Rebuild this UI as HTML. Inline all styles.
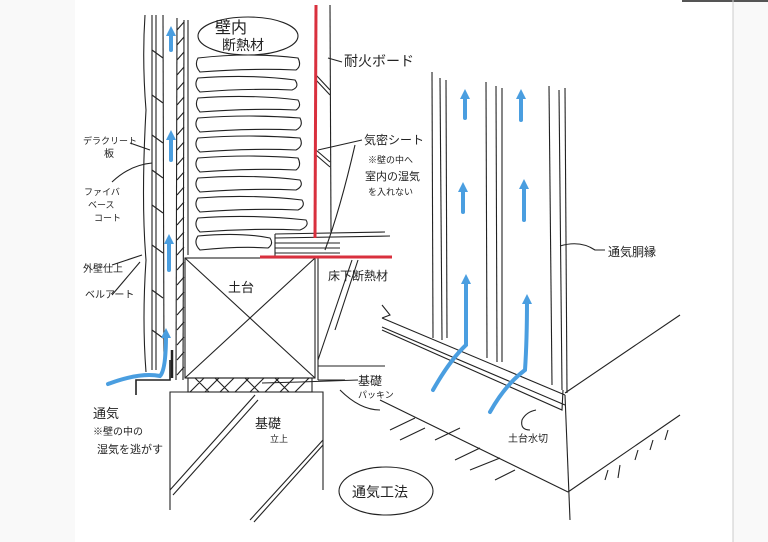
<!DOCTYPE html>
<html><head><meta charset="utf-8"><style>
body{margin:0;background:#fff;}
svg{display:block}
text{font-family:"Liberation Sans","Noto Sans CJK JP",sans-serif;fill:#222;}
</style></head><body>
<svg width="768" height="542" viewBox="0 0 768 542" xmlns="http://www.w3.org/2000/svg">
<rect width="768" height="542" fill="#fff"/>
<rect x="0" y="0" width="75" height="542" fill="#f9f9f9"/>
<rect x="733" y="0" width="35" height="542" fill="#f9f9f9"/>
<line x1="682" y1="1" x2="768" y2="1" stroke="#555" stroke-width="2"/>
<line x1="733" y1="0" x2="733" y2="542" stroke="#ccc"/>
<g stroke="#222" stroke-width="1.1" fill="none">
<!-- left wall layers -->
<path d="M145 15 Q142 60 146 110 Q141 200 146 260 Q142 320 146 372"/>
<line x1="152" y1="15" x2="152" y2="370"/>
<line x1="156" y1="15" x2="156" y2="370"/>
<line x1="163" y1="15" x2="164" y2="370"/>
<line x1="177" y1="18" x2="176" y2="380"/>
<line x1="184" y1="20" x2="183" y2="380"/>
<path d="M177 30 L184 22 M177 45 L184 37 M177 60 L184 52 M177 75 L184 67 M177 90 L184 82 M177 105 L184 97 M177 120 L184 112 M177 135 L184 127 M177 150 L184 142 M177 165 L184 157 M177 180 L184 172 M177 195 L184 187 M177 210 L184 202 M177 225 L184 217 M177 240 L184 232 M177 255 L184 247 M177 270 L184 262 M177 285 L184 277 M177 300 L184 292 M177 315 L184 307 M177 330 L184 322 M177 345 L184 337 M177 360 L184 352 M177 375 L184 367"/>
<path d="M152 50 L163 58 M152 95 L163 103 M152 135 L163 143 M152 170 L163 178 M152 205 L163 213 M152 245 L163 253 M152 290 L163 298 M152 330 L163 338"/>
<line x1="188" y1="20" x2="188" y2="255"/>
<!-- flashing -->
<path d="M136 395 L136 380 L170 380 L170 360" stroke-width="1.6"/>
<path d="M172 350 L172 378" stroke-width="2.5"/>
<!-- insulation oval -->
<ellipse cx="248" cy="36" rx="50" ry="19"/>
<!-- insulation blobs -->
<path d="M198 58 Q250 52 298 58 Q302 66 296 70 Q250 68 200 72 Q194 65 198 58Z"/>
<path d="M198 78 Q250 74 295 80 Q300 87 292 90 Q250 88 200 92 Q193 85 198 78Z"/>
<path d="M198 98 Q250 94 298 100 Q302 106 296 110 Q250 108 200 112 Q194 105 198 98Z"/>
<path d="M198 118 Q250 114 300 118 Q304 126 296 130 Q250 128 200 132 Q193 125 198 118Z"/>
<path d="M198 138 Q250 134 300 138 Q304 146 296 150 Q250 148 200 152 Q193 145 198 138Z"/>
<path d="M198 158 Q250 154 298 158 Q302 166 296 170 Q250 168 200 172 Q193 165 198 158Z"/>
<path d="M198 178 Q250 174 300 180 Q304 186 296 190 Q250 188 200 192 Q193 185 198 178Z"/>
<path d="M198 198 Q250 194 302 200 Q306 206 298 210 Q250 208 200 212 Q193 205 198 198Z"/>
<path d="M198 218 Q250 214 306 220 Q310 226 300 230 Q250 228 200 232 Q193 225 198 218Z"/>
<path d="M198 236 Q240 232 270 238 Q274 244 268 248 Q240 246 200 250 Q193 243 198 236Z"/>
<!-- interior wall -->
<line x1="330" y1="5" x2="331" y2="232"/>
<path d="M316 75 L330 90 M316 80 L330 95 M316 150 L330 162 M316 155 L330 167"/>
<!-- floor -->
<line x1="275" y1="234" x2="385" y2="232"/>
<line x1="275" y1="238" x2="390" y2="236"/>
<line x1="275" y1="243" x2="340" y2="243"/>
<line x1="275" y1="248" x2="340" y2="248"/>
<line x1="275" y1="253" x2="340" y2="253"/>
<line x1="275" y1="234" x2="275" y2="256"/>
<!-- sill -->
<rect x="185" y="258" width="130" height="120"/>
<line x1="185" y1="258" x2="315" y2="378"/>
<line x1="315" y1="258" x2="185" y2="378"/>
<rect x="188" y="378" width="124" height="14"/>
<path d="M190 392 L204 378 M205 392 L219 378 M220 392 L234 378 M235 392 L249 378 M250 392 L264 378 M265 392 L279 378 M280 392 L294 378 M295 392 L309 378 M195 378 L209 392 M215 378 L229 392 M245 378 L259 392 M275 378 L289 392"/>
<!-- foundation -->
<polyline points="170,510 170,392 323,392 323,490"/>
<line x1="170" y1="490" x2="255" y2="395"/>
<line x1="173" y1="495" x2="258" y2="400"/>
<line x1="250" y1="520" x2="323" y2="440"/>
<line x1="254" y1="522" x2="323" y2="445"/>
<line x1="318" y1="258" x2="318" y2="380"/>
<line x1="318" y1="380" x2="345" y2="380"/>
<line x1="318" y1="366" x2="385" y2="366"/>
<line x1="335" y1="330" x2="358" y2="260"/>
<line x1="318" y1="360" x2="352" y2="260"/>
<!-- leaders -->
<path d="M328 58 L342 62"/>
<path d="M318 150 L362 140"/>
<path d="M325 250 Q340 210 355 145"/>
<path d="M340 390 Q360 410 380 410"/>
<path d="M262 383 L300 382 L358 380"/>
<path d="M130 143 L150 150"/>
<path d="M112 182 Q130 165 152 163"/>
<path d="M112 265 L142 255"/>
<path d="M112 295 L140 262"/>
<path d="M560 246 Q580 240 595 250 L605 250"/>
<!-- right perspective studs -->
<line x1="432" y1="72" x2="433" y2="338"/>
<line x1="440" y1="78" x2="442" y2="340"/>
<line x1="446" y1="80" x2="447" y2="338"/>
<line x1="486" y1="82" x2="487" y2="358"/>
<line x1="496" y1="86" x2="497" y2="362"/>
<line x1="502" y1="88" x2="502" y2="362"/>
<line x1="549" y1="86" x2="552" y2="385"/>
<line x1="559" y1="90" x2="562" y2="390"/>
<line x1="565" y1="88" x2="567" y2="393"/>
<!-- sill plate -->
<path d="M382 318 L565 395 M382 327 L565 405 M382 330 L562 410 L563 390"/>
<path d="M382 305 L390 315 L382 318"/>
<line x1="565" y1="393" x2="680" y2="315"/>
<line x1="565" y1="395" x2="570" y2="520"/>
<line x1="380" y1="400" x2="568" y2="492"/>
<line x1="568" y1="492" x2="680" y2="415"/>
<path d="M390 430 L415 418 M400 440 L425 428 M435 440 L460 428 M455 460 L480 448 M470 470 L500 458 M495 480 L515 470 M605 480 L608 470 M618 478 L620 465 M635 460 L638 450 M650 450 L653 440 M665 440 L668 430"/>
<path d="M530 430 Q520 430 522 420 Q526 412 536 410"/>
<ellipse cx="386" cy="491" rx="47" ry="24"/>
</g>
<!-- red -->
<line x1="316" y1="5" x2="315" y2="238" stroke="#d9303e" stroke-width="3"/>
<line x1="260" y1="257" x2="392" y2="257" stroke="#d9303e" stroke-width="3"/>
<!-- blue arrows -->
<g stroke="#4a9ee0" stroke-width="4" fill="none" stroke-linecap="round">
<path d="M171 50 L171 32"/><path d="M171 160 L171 136"/><path d="M169 270 L169 240"/>
<path d="M108 384 Q140 372 160 376 Q166 370 166 335"/>
<path d="M465 118 L465 95"/><path d="M521 120 L521 95"/>
<path d="M463 212 L463 188"/><path d="M524 220 L524 185"/>
<path d="M433 390 Q450 360 466 345 Q466 300 466 280"/>
<path d="M490 412 Q505 385 525 370 Q527 340 527 300"/>
</g>
<g fill="#4a9ee0">
<polygon points="171,26 166,36 176,36"/><polygon points="171,130 166,140 176,140"/><polygon points="169,234 164,244 174,244"/>
<polygon points="166,328 161,338 171,338"/>
<polygon points="465,89 460,99 470,99"/><polygon points="521,89 516,99 526,99"/>
<polygon points="463,182 458,192 468,192"/><polygon points="524,179 519,189 529,189"/>
<polygon points="466,274 461,284 471,284"/><polygon points="527,294 522,304 532,304"/>
</g>
<!-- labels -->
<g font-size="11">
<text x="215" y="33" font-size="16">壁内</text>
<text x="222" y="50" font-size="14">断熱材</text>
<text x="344" y="66" font-size="14">耐火ボード</text>
<text x="364" y="144" font-size="12">気密シート</text>
<text x="368" y="163" font-size="9">※壁の中へ</text>
<text x="365" y="180" font-size="11">室内の湿気</text>
<text x="368" y="195" font-size="9">を入れない</text>
<text x="608" y="256" font-size="12">通気胴縁</text>
<text x="328" y="280" font-size="12">床下断熱材</text>
<text x="358" y="385" font-size="12">基礎</text>
<text x="358" y="398" font-size="9">パッキン</text>
<text x="228" y="292" font-size="13">土台</text>
<text x="255" y="428" font-size="13">基礎</text>
<text x="270" y="442" font-size="9">立上</text>
<text x="352" y="497" font-size="14">通気工法</text>
<text x="508" y="442" font-size="10">土台水切</text>
<text x="83" y="144" font-size="9">デラクリート</text>
<text x="104" y="157" font-size="10">板</text>
<text x="84" y="195" font-size="9">ファイバ</text>
<text x="88" y="208" font-size="9">ベース</text>
<text x="94" y="221" font-size="9">コート</text>
<text x="83" y="272" font-size="10">外壁仕上</text>
<text x="85" y="298" font-size="10">ベルアート</text>
<text x="93" y="418" font-size="13">通気</text>
<text x="93" y="435" font-size="10">※壁の中の</text>
<text x="97" y="453" font-size="11">湿気を逃がす</text>
</g>
</svg>
</body></html>
